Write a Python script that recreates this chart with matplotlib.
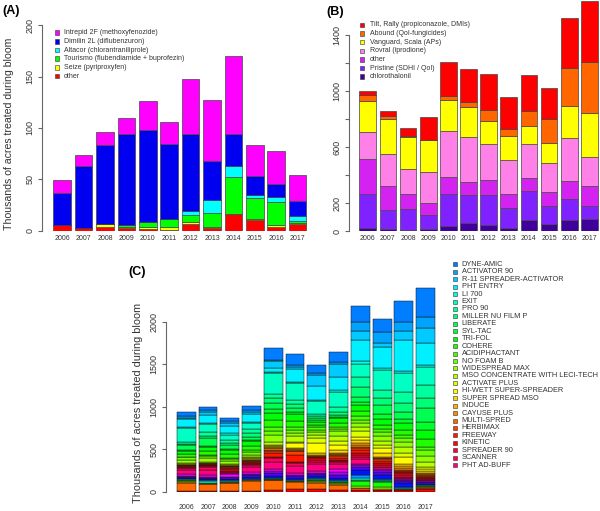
import colorsys
import matplotlib
matplotlib.use('Agg')
import numpy as np
import matplotlib.pyplot as plt
from matplotlib.patches import Rectangle

plt.rcParams['font.family'] = ['Liberation Sans', 'DejaVu Sans']

# -----------------------------
# DATA
# -----------------------------
years = ['2006', '2007', '2008', '2009', '2010', '2011',
         '2012', '2013', '2014', '2015', '2016', '2017']

# (A) insecticides, thousands of acres (stack bottom -> top)
other_a = [6, 2.5, 4, 3, 2, 1, 6.5, 2.5, 16, 10, 3.5, 7]
seize = [0, 0, 3, 1, 2, 3, 1.5, 1.5, 0.5, 1, 2.5, 0.5]
tourismo = [0, 0, 0, 2, 4, 7, 7, 13, 36, 21, 22, 1.5]
altacor = [0, 0, 0, 0, 0, 0, 4, 13, 10, 3, 4.5, 5]
dimilin = [31, 60, 76, 88, 89.5, 73, 75, 38, 32, 18, 12.5, 14.5]
intrepid = [12, 11, 13, 16, 28.5, 22, 53.5, 59, 75, 30.5, 32.5, 26]
names_a = ['other', 'Seize (pyriproxyfen)', 'Tourismo (flubendiamide + buprofezin)',
           'Altacor (chlorantraniliprole)', 'Dimilin 2L (diflubenzuron)',
           'Intrepid 2F (methoxyfenozide)']

# (B) fungicides (stack bottom -> top)
chloro = [19, 14, 10, 17, 36, 55, 43, 24, 79, 50, 79, 86]
pristine = [245, 136, 147, 97, 228, 202, 214, 138, 207, 129, 150, 95]
other_b = [250, 174, 110, 88, 124, 95, 107, 100, 95, 100, 128, 140]
rovral = [193, 224, 173, 217, 326, 322, 255, 245, 240, 204, 305, 210]
vanguard = [222, 252, 229, 229, 224, 209, 169, 172, 129, 143, 231, 314]
abound = [40, 19, 12, 4, 29, 36, 74, 52, 110, 172, 274, 360]
tilt = [33, 41, 52, 165, 243, 236, 259, 224, 254, 221, 357, 435]
names_b = ['chlorothalonil', 'Pristine (SDHI / QoI)', 'other', 'Rovral (iprodione)',
           'Vanguard, Scala (APs)', 'Abound (QoI-fungicides)', 'Tilt, Rally (propiconazole, DMIs)']

# (C) adjuvants: 12 unlisted products then the 28 listed ones, bottom -> top
names_c = ['PHT AD-BUFF', 'SCANNER', 'SPREADER 90', 'KINETIC', 'FREEWAY', 'HERBIMAX',
           'MULTI-SPRED', 'CAYUSE PLUS', 'INDUCE', 'SUPER SPREAD MSO',
           'HI-WETT SUPER-SPREADER', 'ACTIVATE PLUS', 'MSO CONCENTRATE WITH LECI-TECH',
           'WIDESPREAD MAX', 'NO FOAM B', 'ACIDIPHACTANT', 'COHERE', 'TRI-FOL', 'SYL-TAC',
           'LIBERATE', 'MILLER NU FILM P', 'PRO 90', 'EXIT', 'LI 700', 'PHT ENTRY',
           'R-11 SPREADER-ACTIVATOR', 'ACTIVATOR 90', 'DYNE-AMIC']

c2006 = [12, 94, 4, 15, 12, 5, 5, 5, 10, 10, 8, 30,
         40, 25, 10, 8, 10, 5, 3, 3, 2, 2, 3, 3, 10, 40, 35, 5, 25, 45, 10, 55, 13, 20, 170, 10, 95, 15, 25, 46]
c2007 = [12, 78, 3, 5, 5, 4, 25, 5, 15, 12, 8, 25,
         55, 35, 15, 10, 8, 5, 3, 3, 2, 2, 3, 3, 8, 45, 30, 8, 45, 55, 10, 90, 30, 40, 100, 12, 95, 25, 28, 40]
c2008 = [12, 90, 4, 4, 4, 4, 8, 8, 20, 15, 10, 25,
         15, 10, 15, 20, 20, 10, 5, 4, 3, 2, 3, 3, 10, 35, 30, 10, 40, 50, 20, 45, 20, 30, 70, 15, 80, 40, 28, 36]
c2009 = [12, 120, 4, 3, 3, 3, 5, 5, 20, 20, 15, 25,
         60, 25, 8, 6, 15, 10, 5, 4, 3, 3, 8, 10, 15, 25, 35, 20, 50, 60, 15, 36, 40, 50, 75, 12, 90, 28, 20, 51]
c2010 = [25, 110, 3, 3, 3, 3, 5, 5, 30, 30, 25, 20,
         90, 45, 10, 8, 40, 25, 15, 15, 10, 8, 10, 12, 40, 80, 50, 40, 80, 90, 40, 80, 60, 45, 240, 18, 40, 85, 15, 145]
c2011 = [28, 90, 3, 3, 3, 3, 5, 5, 20, 20, 15, 20,
         90, 35, 8, 6, 80, 40, 10, 7, 10, 20, 50, 20, 60, 40, 40, 30, 70, 80, 30, 50, 40, 50, 196, 20, 145, 30, 20, 135]
c2012 = [28, 70, 20, 10, 8, 5, 8, 10, 25, 25, 15, 20,
         85, 25, 25, 20, 10, 6, 5, 5, 7, 20, 120, 60, 40, 30, 30, 25, 30, 30, 25, 30, 18, 25, 150, 20, 160, 130, 20, 95]
c2013 = [25, 50, 20, 10, 10, 5, 8, 9, 30, 35, 25, 35,
         70, 20, 12, 10, 25, 20, 15, 10, 8, 40, 60, 50, 60, 50, 25, 30, 40, 60, 15, 25, 30, 60, 180, 20, 160, 148, 28, 114]
c2014 = [15, 25, 5, 20, 60, 15, 20, 35, 60, 40, 20, 10,
         60, 25, 20, 25, 35, 20, 15, 20, 25, 40, 40, 60, 50, 50, 40, 40, 60, 70, 40, 60, 110, 120, 150, 40, 250, 110, 95, 191]
c2015 = [20, 5, 5, 20, 70, 10, 12, 10, 40, 40, 20, 20,
         15, 10, 20, 20, 30, 15, 10, 10, 10, 40, 60, 40, 50, 50, 50, 40, 50, 60, 70, 100, 80, 100, 230, 22, 250, 50, 130, 152]
c2016 = [20, 5, 3, 3, 3, 3, 5, 15, 40, 25, 15, 10,
         15, 15, 20, 20, 15, 10, 15, 20, 25, 30, 80, 50, 60, 60, 50, 40, 60, 80, 50, 80, 100, 130, 230, 20, 370, 100, 110, 242]
c2017 = [30, 15, 10, 5, 5, 5, 5, 5, 15, 15, 10, 10,
         5, 5, 8, 10, 12, 10, 12, 12, 12, 25, 30, 25, 60, 70, 60, 45, 90, 110, 90, 160, 120, 160, 213, 25, 250, 180, 127, 342]

# -----------------------------
# COLOURS
# -----------------------------
cols_a = ['#FF0000', '#FFFF00', '#00FF00', '#00FFFF', '#0000F0', '#FF00FF']
cols_b = ['#40009A', '#7F22FF', '#D422F0', '#FF80E6', '#FFFF00', '#FF6600', '#FF0000']


def hue(h):
    return colorsys.hsv_to_rgb((h % 360) / 360.0, 1, 1)


hues_unlisted = [0, 25, 55, 85, 115, 145, 175, 205, 235, 260, 280, 300]
cols_c = [hue(h) for h in hues_unlisted] + [hue(330 + 8.9 * k) for k in range(28)]

# -----------------------------
# FIGURE (pixel layout helpers)
# -----------------------------
W, H = 600, 511
fig = plt.figure(figsize=(W / 100, H / 100), dpi=100)
TXT = '#333333'
AX = '#666666'


def px_axes(x0, y0, x1, y1):
    return fig.add_axes([x0 / W, 1 - y1 / H, (x1 - x0) / W, (y1 - y0) / H])


def style(ax, ticks, labels, xpad):
    for s in ['top', 'right', 'bottom']:
        ax.spines[s].set_visible(False)
    ax.spines['left'].set_bounds(ticks[0], ticks[-1])
    ax.spines['left'].set_color(AX)
    ax.spines['left'].set_linewidth(0.8)
    ax.set_yticks(ticks)
    ax.set_yticklabels(labels, rotation=90, va='center', fontsize=6.5, color=TXT)
    ax.tick_params(axis='y', length=3.2, width=0.8, color=AX, pad=2)
    ax.set_xticks(range(len(years)))
    ax.set_xticklabels(years, fontsize=5, color=TXT)
    ax.tick_params(axis='x', length=0, pad=xpad)


def key(x, y, color, label, fs, sq=4.5):
    fig.patches.append(Rectangle((x / W, 1 - (y + sq / 2) / H), sq / W, sq / H,
                                 transform=fig.transFigure, facecolor=color,
                                 edgecolor='#333333', linewidth=0.4))
    fig.text((x + sq + 5) / W, 1 - y / H, label, fontsize=fs, color=TXT,
             va='center', ha='left')


def panel_label(x, y, s):
    fig.text(x / W, 1 - y / H, s, fontsize=9, fontweight='bold', ha='center', va='center')


def ylab(x, y, size):
    fig.text(x / W, 1 - y / H, 'Thousands of acres treated during bloom', rotation=90,
             fontsize=size, color=TXT, ha='center', va='center')


xa = np.arange(len(years))

# ---------- (A) ----------
axA = px_axes(42, 20, 317, 230.7)
bottom = np.zeros(len(years))
for vals, c in zip([other_a, seize, tourismo, altacor, dimilin, intrepid], cols_a):
    axA.bar(xa, vals, 0.83, bottom=bottom, color=c, edgecolor='#444444', linewidth=0.5)
    bottom += np.array(vals)
axA.set_xlim(-0.944, 11.906)
axA.set_ylim(0, 205)
style(axA, [0, 50, 100, 150, 200], ['0', '50', '100', '150', '200'], 3)
for i, (n, c) in enumerate(zip(names_a[::-1], cols_a[::-1])):
    key(54.5, 32.7 + 8.67 * i, c, n, 5)
panel_label(11, 11, '(A)')
ylab(9, 134, 7.6)

# ---------- (B) ----------
axB = px_axes(349, 0, 600, 231)
bottom = np.zeros(len(years))
for vals, c in zip([chloro, pristine, other_b, rovral, vanguard, abound, tilt], cols_b):
    axB.bar(xa, vals, 0.83, bottom=bottom, color=c, edgecolor='#444444', linewidth=0.5)
    bottom += np.array(vals)
axB.set_xlim(-0.93, 11.53)
axB.set_ylim(0, 1650)
style(axB, list(range(0, 1401, 200)),
      ['0', '200', '', '600', '', '1000', '', '1400'], 3)
for i, (n, c) in enumerate(zip(names_b[::-1], cols_b[::-1])):
    key(360, 25 + 8.6 * i, c, n, 5)
panel_label(335.5, 12, '(B)')

# ---------- (C) ----------
axC = px_axes(166, 270, 446, 491.7)
mat_c = np.array([c2006, c2007, c2008, c2009, c2010, c2011,
                  c2012, c2013, c2014, c2015, c2016, c2017], dtype=float).T
bottom = np.zeros(len(years))
for vals, c in zip(mat_c, cols_c):
    axC.bar(xa, vals, 0.87, bottom=bottom, color=c, edgecolor='#111111', linewidth=0.35)
    bottom += vals
axC.set_xlim(-0.93, 11.94)
axC.set_ylim(0, 2614)
style(axC, [0, 500, 1000, 1500, 2000], ['0', '500', '1000', '1500', '2000'], 9)
cols_leg = cols_c[12:]
for i, (n, c) in enumerate(zip(names_c[::-1], cols_leg[::-1])):
    key(452.5, 264.3 + 7.44 * i, c, n, 5.3, sq=4)
panel_label(137.5, 271.7, '(C)')
ylab(138, 403, 7.8)

fig.savefig('out.png', dpi=100)
